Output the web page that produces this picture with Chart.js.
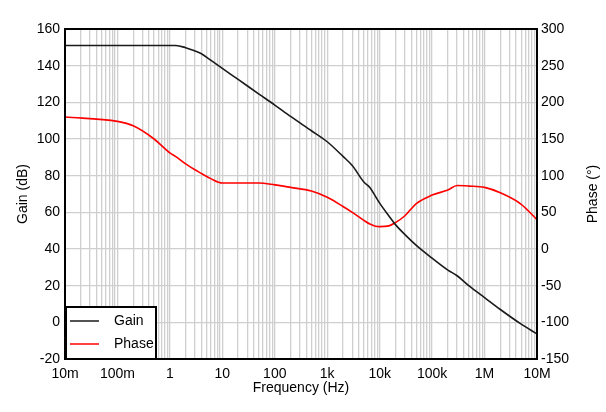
<!DOCTYPE html>
<html>
<head>
<meta charset="utf-8">
<script src="https://cdn.jsdelivr.net/npm/chart.js@4/dist/chart.umd.min.js"></script>
<style>
  html, body { margin: 0; padding: 0; background: #fff; }
  #wrap { width: 606px; height: 412px; }
</style>
</head>
<body>
<div id="wrap"><canvas id="bode" width="606" height="412"></canvas></div>
<script>
// values
const freqHz = [0.01, 0.1, 0.2, 0.5, 1, 1.3, 2, 3, 4, 6, 10, 20, 50, 100, 200, 500,
  1000, 2000, 3000, 5000, 6500, 8000, 10000, 15000, 20000, 30000, 50000,
  100000, 200000, 300000, 500000, 1000000, 2000000, 5000000, 10000000];
const gainDb = [151, 151, 151, 151, 151, 151, 149.8, 148, 146.5, 143, 138.5, 132.5, 124.5, 118.5, 112.3, 104.5,
  98.5, 90.5, 85.5, 76.5, 73.5, 69.5, 65, 58, 53.3, 48, 42,
  35, 28.5, 25.4, 20, 13.5, 7, -1, -6.3];
const phaseDeg = [180, 174, 168, 150, 131, 126, 116, 108, 103, 96, 90, 90, 90, 87.5, 84, 79,
  70.5, 58, 50, 39, 34, 31.5, 30.5, 31.5, 36, 45, 62,
  73.5, 80.5, 86.5, 85.8, 84, 76.6, 61, 40];

const decadeValues = [0.01, 0.1, 1, 10, 100, 1000, 10000, 100000, 1000000, 10000000];
const decadeLabels = ["10m", "100m", "1", "10", "100", "1k", "10k", "100k", "1M", "10M"];

const FONT = "'Liberation Sans', Arial, sans-serif";
const GRID = "#cfcfcf";

const toPoints = (ys) => freqHz.map((f, i) => ({ x: f, y: ys[i] }));

// frame, right title and the boxed legend in the lower left corner
const extras = {
  id: "extras",
  afterDraw(chart) {
    const { ctx, chartArea: a } = chart;
    ctx.save();
    ctx.font = "14px " + FONT;
    ctx.fillStyle = "#000";

    // right axis title, reads bottom to top
    ctx.save();
    ctx.translate(593, (a.top + a.bottom) / 2);
    ctx.rotate(-Math.PI / 2);
    ctx.textAlign = "center";
    ctx.textBaseline = "middle";
    ctx.fillText("Phase (°)", 0, 0);
    ctx.restore();

    // legend
    const lx = a.left, ly = 307, lw = 91, lh = a.bottom - 307;
    ctx.fillStyle = "#fff";
    ctx.fillRect(lx, ly, lw, lh);
    ctx.lineWidth = 2;
    ctx.strokeStyle = "#000";
    ctx.strokeRect(lx + 1, ly, lw - 1, lh);
    chart.data.datasets.forEach((ds, i) => {
      const y = 321 + i * 23;
      ctx.strokeStyle = ds.borderColor;
      ctx.lineWidth = 1.5;
      ctx.beginPath();
      ctx.moveTo(70, y);
      ctx.lineTo(99, y);
      ctx.stroke();
      ctx.fillStyle = "#000";
      ctx.textAlign = "left";
      ctx.textBaseline = "middle";
      ctx.fillText(ds.label, 114, y);
    });

    // plot frame
    ctx.strokeStyle = "#000";
    ctx.lineWidth = 2;
    ctx.strokeRect(a.left, a.top, a.right - a.left, a.bottom - a.top);
    ctx.restore();
  }
};

new Chart(document.getElementById("bode"), {
  type: "line",
  data: {
    datasets: [
      {
        label: "Gain",
        data: toPoints(gainDb),
        yAxisID: "yGain",
        borderColor: "#1a1a1a",
        borderWidth: 1.6,
        pointRadius: 0,
        cubicInterpolationMode: "monotone"
      },
      {
        label: "Phase",
        data: toPoints(phaseDeg),
        yAxisID: "yPhase",
        borderColor: "#ff0000",
        borderWidth: 1.6,
        pointRadius: 0,
        cubicInterpolationMode: "monotone"
      }
    ]
  },
  options: {
    responsive: false,
    animation: false,
    layout: { padding: { top: 29, left: 0, right: 0, bottom: 0 } },
    plugins: { legend: { display: false }, tooltip: { enabled: false } },
    scales: {
      x: {
        type: "logarithmic",
        min: 0.01,
        max: 10000000,
        afterBuildTicks(scale) {
          const ticks = [];
          for (let e = -2; e <= 7; e++) {
            for (let m = 1; m <= 9; m++) {
              const v = m * Math.pow(10, e);
              if (v <= 10000000 * 1.0001) ticks.push({ value: v });
            }
          }
          scale.ticks = ticks;
        },
        afterFit(scale) { scale.height = 53; },
        grid: { color: GRID, lineWidth: 1.3, drawTicks: false },
        border: { display: false },
        ticks: {
          autoSkip: false,
          maxRotation: 0,
          padding: 7,
          color: "#000",
          font: { family: FONT, size: 14 },
          callback(value) {
            const k = decadeValues.findIndex(d => Math.abs(Math.log10(d) - Math.log10(value)) < 1e-6);
            return k >= 0 ? decadeLabels[k] : "";
          }
        },
        title: {
          display: true,
          text: "Frequency (Hz)",
          color: "#000",
          font: { family: FONT, size: 14 },
          padding: { top: 0, bottom: 15 }
        }
      },
      yGain: {
        position: "left",
        min: -20,
        max: 160,
        afterFit(scale) { scale.width = 65; },
        grid: { color: GRID, lineWidth: 1.3, drawTicks: false },
        border: { display: false },
        ticks: {
          stepSize: 20,
          padding: 5,
          color: "#000",
          font: { family: FONT, size: 14 }
        },
        title: {
          display: true,
          text: "Gain (dB)",
          color: "#000",
          font: { family: FONT, size: 14 },
          padding: { top: 15, bottom: 0 }
        }
      },
      yPhase: {
        position: "right",
        min: -150,
        max: 300,
        afterFit(scale) { scale.width = 69; },
        grid: { display: false, drawTicks: false },
        border: { display: false },
        ticks: {
          stepSize: 50,
          padding: 4,
          color: "#000",
          font: { family: FONT, size: 14 }
        }
      }
    }
  },
  plugins: [extras]
});
</script>
</body>
</html>
